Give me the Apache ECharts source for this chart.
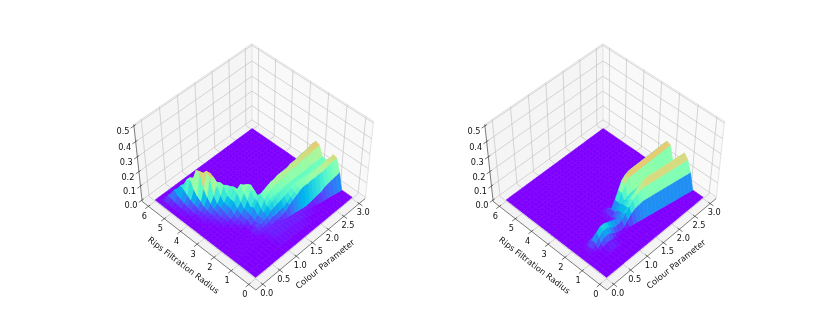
<!DOCTYPE html>
<html>
<head>
<meta charset="utf-8">
<style>
html,body{margin:0;background:#fff}
#chart{width:830px;height:332px}
</style>
<script src="https://cdn.jsdelivr.net/npm/echarts@6/dist/echarts.min.js"></script>
</head>
<body>
<div id="chart"></div>
<script>
const colourTicks = [0, 0.5, 1, 1.5, 2, 2.5, 3];
const radiusTicks = [0, 1, 2, 3, 4, 5, 6];
const heightTicks = [0, 0.1, 0.2, 0.3, 0.4, 0.5];
const colourSamples = [0,0.1,0.2,0.3,0.4,0.5,0.6,0.7,0.8,0.9,1,1.1,1.2,1.3,1.4,1.5,1.6,1.7,1.8,1.9,2,2.1,2.2,2.3,2.4,2.5,2.6,2.7,2.8,2.9,3];
const radiusSamples = [0,0.2,0.4,0.6,0.8,1,1.2,1.4,1.6,1.8,2,2.2,2.4,2.6,2.8,3,3.2,3.4,3.6,3.8,4,4.2,4.4,4.6,4.8,5,5.2,5.4,5.6,5.8,6];
// how far the front step has moved up the radius axis at each colour sample
const stepDrift = [0.56,0.56,0.56,0.56,0.56,0.56,0.56,0.56,0.56,0.56,0.56,0.56,0.56,0.56,0.53,0.5,0.46,0.43,0.4,0.36,0.33,0.3,0.26,0.23,0.2,0.16,0.13,0.1,0.07,0.03,0];

// heights in hundredths, one row per radius sample, trailing zeros left out
const leftHeights = [
  [],
  [],
  [0,0,0,0,0,0,0,0,0,0,1,1,1,1,1,1,1,1,1],
  [0,0,0,0,0,0,0,0,0,0,1,1,1,1,1,1,1,1,1,1,1,1],
  [0,0,0,0,0,0,0,0,0,0,1,1,1,1,1,1,1,1,1,1,1,1,2,3,4,5,7,8,9,10,11],
  [0,0,0,0,0,0,0,0,0,1,1,1,1,2,2,3,4,7,9,11,13,14,14,15,15,16,16,17,18,19,19],
  [0,0,0,0,0,0,0,0,0,1,2,2,3,4,4,5,6,8,10,12,14,15,16,16,17,17,18,18,19,19,20],
  [0,0,0,0,0,0,0,0,1,2,3,4,5,7,8,9,10,11,12,13,14,14,14,14,14,14,14,14,14,15,15],
  [0,0,0,0,0,0,0,0,0,2,3,5,7,9,11,12,13,13,13,13,13,13,13,13,13,13,13,13,13,13,13],
  [0,0,0,0,0,0,0,0,0,1,2,4,6,9,11,12,12,12,13,13,13,13,13,13,13,13,14,14,14,14,14],
  [0,0,0,0,0,0,0,0,0,1,3,5,8,12,14,15,16,16,17,17,18,18,18,18,19,19,19,19,20,20,20],
  [0,0,0,0,0,0,0,0,1,3,5,8,11,14,15,16,17,17,18,18,18,18,19,19,19,20,20,20,21,21,21],
  [0,0,0,0,0,0,0,1,2,3,5,7,11,11,9,5],
  [0,0,0,0,0,0,0,1,2,4,6,10,15,13,7],
  [0,0,0,0,0,0,1,2,4,6,9,13,17,15,8],
  [0,0,0,0,0,1,2,3,6,9,13,17,15,8],
  [0,0,0,0,0,1,2,4,6,9,14,12,6],
  [0,0,0,0,1,2,3,5,7,10,14,12,6],
  [0,0,0,0,1,2,4,6,10,15,13,7],
  [0,0,0,1,2,3,6,10,17,15,8],
  [0,0,0,1,2,4,9,21,19,10],
  [0,0,0,1,3,6,13,23,20,10],
  [0,0,1,2,4,8,23,20,10],
  [0,0,1,2,5,11,22,19,9],
  [0,0,1,3,7,17,15,8],
  [0,0,2,4,9,14,12,6],
  [0,0,2,5,10,9,4],
  [0,1,3,7,6,3],
  [0,1,3,3,1],
  [],
  []
];
const rightHeights = [
  [],
  [],
  [],
  [0,0,0,0,0,1,2,2,1],
  [0,0,0,0,1,3,5,5,4,2,1,0,1,4,7,9,10,11,11,11,11,11,11,11,11,11,11,11,11,11,11],
  [0,0,0,1,3,6,8,8,7,5,4,4,5,8,11,14,16,17,18,18,18,18,18,18,18,18,18,18,18,18,18],
  [0,0,0,1,4,8,10,10,9,8,7,6,6,6,9,13,16,18,20,21,21,21,21,21,21,21,21,21,21,21,21],
  [0,0,0,1,3,5,5,4,3,3,3,3,4,6,9,11,12,13,13,13,13,13,13,13,13,13,13,13,13,13,13],
  [0,0,0,0,1,2,2,2,1,1,1,1,3,6,9,10,11,11,11,11,11,11,11,11,11,11,11,11,11,11,11],
  [0,0,0,0,0,0,0,0,0,0,0,0,2,5,8,9,10,11,11,11,11,11,11,11,11,10,10,10,10,10,10],
  [0,0,0,0,0,0,0,0,0,0,0,0,1,3,8,13,17,20,20,20,20,20,20,20,20,20,20,20,20,20,20],
  [0,0,0,0,0,0,0,0,0,0,0,0,1,3,8,13,18,20,21,21,21,21,21,21,21,21,21,21,21,21,21],
  [0,0,0,0,0,0,0,0,0,0,0,0,1,2],
  [],[],[],[],[],[],[],[],[],[],[],[],[],[],[],[],[],[]
];
const leftMax = 0.29;
const rightMax = 0.29;

// camera, same idea as a matplotlib 3d axes
const elev = 47 * Math.PI / 180;
const azim = -136 * Math.PI / 180;
const dist = 8;
const box = [1.1429, 1.1429, 0.79];
const scale = 143;
const centreX = 253.8;
const centreY = 162.8;
const panelShift = [0, 351];

const cRange = [-0.2, 3.2];
const rRange = [-0.4, 6.4];
const zRange = [-0.01, 0.51];

const eye = [
  box[0] / 2 + dist * Math.cos(elev) * Math.cos(azim),
  box[1] / 2 + dist * Math.cos(elev) * Math.sin(azim),
  box[2] / 2 + dist * Math.sin(elev)
];
const nv = [Math.cos(elev) * Math.cos(azim), Math.cos(elev) * Math.sin(azim), Math.sin(elev)];
let uv = [-nv[1], nv[0], 0];
const ul = Math.hypot(uv[0], uv[1]);
uv = [uv[0] / ul, uv[1] / ul, 0];
const vv = [nv[1] * uv[2] - nv[2] * uv[1], nv[2] * uv[0] - nv[0] * uv[2], nv[0] * uv[1] - nv[1] * uv[0]];

function viewOf(c, r, z) {
  const w = [
    (c - cRange[0]) / (cRange[1] - cRange[0]) * box[0] - eye[0],
    (r - rRange[0]) / (rRange[1] - rRange[0]) * box[1] - eye[1],
    (z - zRange[0]) / (zRange[1] - zRange[0]) * box[2] - eye[2]
  ];
  return [
    w[0] * uv[0] + w[1] * uv[1] + w[2] * uv[2],
    w[0] * vv[0] + w[1] * vv[1] + w[2] * vv[2],
    w[0] * nv[0] + w[1] * nv[1] + w[2] * nv[2]
  ];
}
function project(c, r, z, panel) {
  const v = viewOf(c, r, z);
  const k = dist / -v[2];
  return [centreX + panelShift[panel] + scale * v[0] * k, centreY - scale * v[1] * k];
}

// mesh radius: rows below 2 lean with the front step
function meshRadius(i, j) {
  const r = radiusSamples[j];
  const f = r < 0.6 ? r / 0.6 : Math.max(0, (2 - r) / 1.4);
  return r + stepDrift[i] * f;
}

function rainbow(x) {
  x = Math.min(1, Math.max(0, x));
  const r = Math.min(1, Math.abs(2 * x - 0.5));
  const g = Math.sin(Math.PI * x);
  const b = Math.cos(Math.PI * x / 2);
  return 'rgb(' + Math.round(r * 255) + ',' + Math.round(g * 255) + ',' + Math.round(b * 255) + ')';
}

function buildCells(rows) {
  const cells = [];
  for (let j = 0; j < radiusSamples.length - 1; j++) {
    for (let i = 0; i < colourSamples.length - 1; i++) {
      const h = [
        (rows[j][i] || 0) / 100, (rows[j][i + 1] || 0) / 100,
        (rows[j + 1][i + 1] || 0) / 100, (rows[j + 1][i] || 0) / 100
      ];
      const avg = (h[0] + h[1] + h[2] + h[3]) / 4;
      const depth = viewOf((colourSamples[i] + colourSamples[i + 1]) / 2, (meshRadius(i, j) + meshRadius(i + 1, j + 1)) / 2, avg)[2];
      cells.push({ value: [i, j, h[0], h[1], h[2], h[3]], depth: depth });
    }
  }
  cells.sort((a, b) => a.depth - b.depth);
  return cells;
}

function surfaceSeries(rows, panel, vmax) {
  return {
    type: 'custom',
    coordinateSystem: 'cartesian2d',
    silent: true,
    z: 3,
    clip: false,
    encode: { x: 0, y: 1 },
    data: buildCells(rows),
    renderItem: function (params, api) {
      const i = api.value(0), j = api.value(1);
      const c0 = colourSamples[i], c1 = colourSamples[i + 1];
      const hs = [api.value(2), api.value(3), api.value(4), api.value(5)];
      const pts = [
        project(c0, meshRadius(i, j), hs[0], panel), project(c1, meshRadius(i + 1, j), hs[1], panel),
        project(c1, meshRadius(i + 1, j + 1), hs[2], panel), project(c0, meshRadius(i, j + 1), hs[3], panel)
      ].map(p => api.coord(p));
      const col = rainbow((hs[0] + hs[1] + hs[2] + hs[3]) / 4 / vmax);
      return { type: 'polygon', shape: { points: pts }, style: { fill: col, stroke: col, lineWidth: 0.6 } };
    }
  };
}

// panes, grid, axis lines and tick labels of one panel
function buildFrame(panel) {
  const out = [];
  const [cl, ch] = cRange, [rl, rh] = rRange, [zl, zh] = zRange;
  const poly = (p, fill) => out.push({ kind: 'poly', pts: p, fill: fill });
  const line = (p, col, w) => out.push({ kind: 'line', pts: p, col: col, w: w });
  poly([[cl, rl, zl], [ch, rl, zl], [ch, rh, zl], [cl, rh, zl]], '#f3f3f3');
  poly([[ch, rl, zl], [ch, rh, zl], [ch, rh, zh], [ch, rl, zh]], '#f9f9f9');
  poly([[cl, rh, zl], [ch, rh, zl], [ch, rh, zh], [cl, rh, zh]], '#f5f5f5');
  line([[ch, rl, zh], [ch, rh, zh], [cl, rh, zh]], '#dddddd', 0.8);
  line([[ch, rl, zl], [ch, rl, zh]], '#dddddd', 0.8);
  line([[ch, rh, zl], [ch, rh, zh]], '#dddddd', 0.8);
  colourTicks.forEach(c => line([[c, rl, zl], [c, rh, zl], [c, rh, zh]], '#c4c4c4', 0.7));
  radiusTicks.forEach(r => line([[cl, r, zl], [ch, r, zl], [ch, r, zh]], '#c4c4c4', 0.7));
  heightTicks.forEach(z => line([[cl, rh, z], [ch, rh, z], [ch, rl, z]], '#c4c4c4', 0.7));
  line([[cl, rh, zl], [cl, rl, zl], [ch, rl, zl]], '#444444', 0.7);
  line([[cl, rh, zl], [cl, rh, zh]], '#444444', 0.7);
  colourTicks.forEach(c => line([[c, rl + 0.1, zl], [c, rl - 0.18, zl]], '#333333', 0.7));
  radiusTicks.forEach(r => line([[cl + 0.05, r, zl], [cl - 0.09, r, zl]], '#333333', 0.7));
  heightTicks.forEach(z => line([[cl + 0.05, rh, z], [cl - 0.09, rh, z]], '#333333', 0.7));
  const label = (pos, dx, dy, text, size, rot) => {
    const p = project(pos[0], pos[1], pos[2], panel);
    out.push({ kind: 'text', at: [p[0] + dx, p[1] + dy], text: text, size: size, rot: rot || 0 });
  };
  colourTicks.forEach(c => label([c, rl, zl], 4, 9.5, c.toFixed(1), 8.2));
  radiusTicks.forEach(r => label([cl, r, zl], -4, 10.5, String(r), 8.2));
  heightTicks.forEach(z => label([cl, rh, z], -11, 6, z.toFixed(1), 8.2));
  label([cl, 3, zl], -14, 21.5, 'Rips Filtration Radius', 8.3, -0.656);
  label([1.5, rl, zl], 13, 22, 'Colour Parameter', 8.3, 0.68);
  return out;
}

function frameSeries(panel) {
  const items = buildFrame(panel);
  return {
    type: 'custom',
    coordinateSystem: 'cartesian2d',
    silent: true,
    z: 2,
    clip: false,
    data: items.map((d, i) => [i, 0]),
    renderItem: function (params, api) {
      const d = items[params.dataIndex];
      if (d.kind === 'text') {
        const p = api.coord(d.at);
        return {
          type: 'text', x: p[0], y: p[1], rotation: d.rot,
          style: { text: d.text, fontSize: d.size, fontFamily: 'DejaVu Sans', fill: '#111', align: 'center', verticalAlign: 'middle' }
        };
      }
      const pts = d.pts.map(q => api.coord(project(q[0], q[1], q[2], panel)));
      if (d.kind === 'poly') {
        return { type: 'polygon', shape: { points: pts }, style: { fill: d.fill } };
      }
      return { type: 'polyline', shape: { points: pts }, style: { fill: 'none', stroke: d.col, lineWidth: d.w } };
    }
  };
}

const myChart = echarts.init(document.getElementById('chart'), null, { renderer: 'canvas' });
myChart.setOption({
  animation: false,
  backgroundColor: '#fff',
  grid: { left: 0, right: 0, top: 0, bottom: 0 },
  xAxis: { type: 'value', min: 0, max: 830, show: false },
  yAxis: { type: 'value', min: 0, max: 332, inverse: true, show: false },
  series: [
    frameSeries(0),
    surfaceSeries(leftHeights, 0, leftMax),
    frameSeries(1),
    surfaceSeries(rightHeights, 1, rightMax)
  ]
});
</script>
</body>
</html>
